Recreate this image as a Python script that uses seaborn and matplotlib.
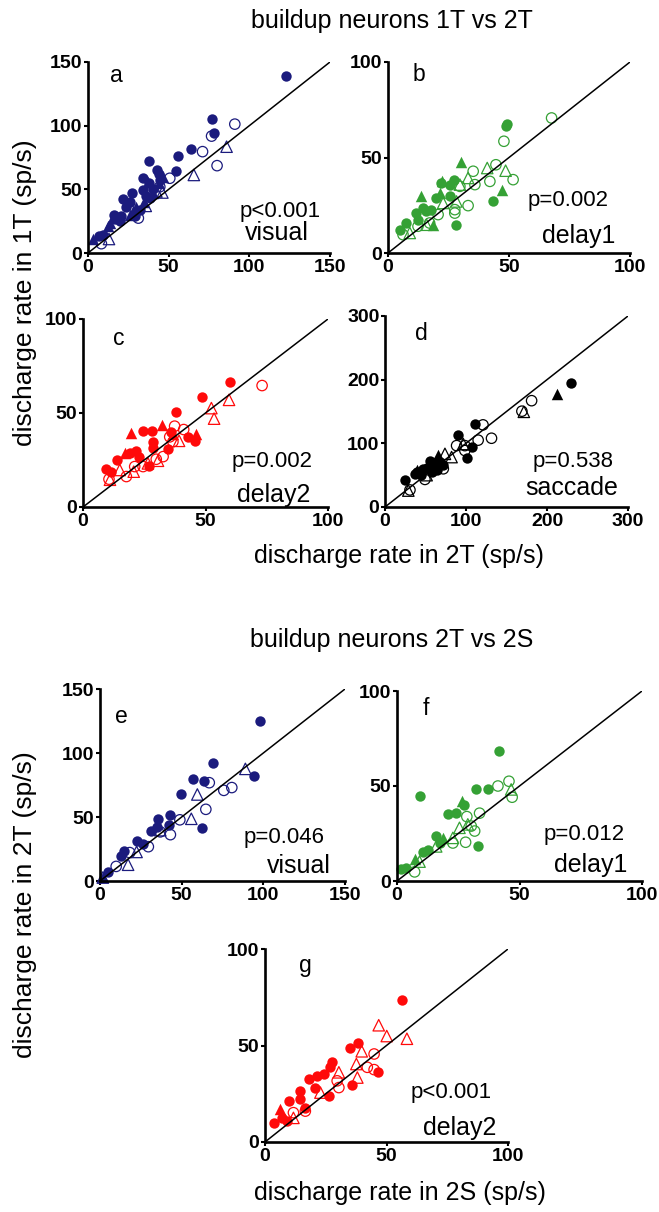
import pandas as pd
import matplotlib
matplotlib.use('Agg')
import matplotlib.pyplot as plt
import seaborn as sns

# values, (x, y) pairs
# fc = filled circle, oc = open circle, ft = filled triangle, ot = open triangle
# panels a-d: x = 2T, y = 1T ; panels e-g: x = 2S, y = 2T
a_fc = [(122.7, 138.8), (76.6, 104.9), (78.2, 94.4), (63.7, 81.4), (55.9, 76.4), (54.8, 64.7),
        (37.7, 72.5), (42.9, 65.2), (34.1, 58.7), (27.5, 47.5), (21.7, 42.3), (15.9, 30.0),
        (19.7, 24.8), (9.3, 14.3), (6.8, 13.0), (34.1, 49.6), (38.3, 43.0), (23.8, 36.5),
        (32.0, 34.0), (37.7, 54.8), (44.5, 57.4), (20.7, 28.7), (29.0, 28.7), (40.0, 50.0),
        (36.0, 45.0), (26.0, 40.0), (44.0, 62.0), (17.0, 27.0)]
a_oc = [(91.0, 101.2), (76.6, 91.8), (71.0, 79.6), (80.0, 68.6), (50.7, 58.7), (31.2, 27.4),
        (8.3, 7.3), (44.5, 52.0)]
a_ft = [(3.1, 11.0), (12.4, 20.9), (46.5, 60.0), (37.2, 56.0), (35.0, 40.4), (30.0, 36.5),
        (13.4, 23.5), (40.0, 47.0), (25.9, 30.0), (44.0, 55.0), (28.0, 33.0)]
a_ot = [(85.9, 83.5), (65.6, 61.3), (46.1, 47.5), (35.8, 37.0), (13.0, 11.0), (42.4, 48.3)]

b_fc = [(49.0, 67.7), (48.6, 66.7), (43.4, 27.0), (28.3, 14.8), (27.3, 38.4), (25.5, 35.8),
        (25.5, 29.7), (20.0, 28.8), (14.5, 23.6), (11.4, 20.9), (7.6, 15.7), (4.8, 12.2),
        (12.4, 17.5), (15.9, 21.8), (17.9, 22.7), (22.0, 36.6)]
b_oc = [(67.6, 70.7), (47.9, 58.5), (44.6, 46.2), (35.2, 42.8), (42.1, 37.5), (51.7, 38.4),
        (35.9, 35.8), (33.1, 24.8), (27.6, 22.7), (27.6, 20.9), (20.7, 20.1), (6.2, 9.6),
        (29.7, 34.9), (12.4, 14.0), (17.2, 15.7)]
b_ft = [(30.3, 47.5), (22.5, 37.5), (21.4, 31.4), (13.8, 29.7), (47.3, 33.2), (18.6, 14.8)]
b_ot = [(41.0, 44.5), (48.6, 43.1), (33.1, 39.3), (29.7, 35.8), (28.3, 27.0), (22.8, 26.2),
        (15.9, 14.8), (9.0, 10.5)]

c_fc = [(60.1, 66.4), (48.6, 58.5), (37.8, 50.5), (24.5, 40.5), (28.3, 40.5), (36.0, 40.0),
        (42.9, 37.0), (45.6, 35.2), (34.7, 30.6), (28.6, 34.7), (28.6, 31.2), (21.8, 29.9),
        (19.0, 28.5), (13.9, 25.0), (9.5, 20.2), (11.6, 18.8), (26.9, 21.8), (23.0, 26.8)]
c_oc = [(73.1, 64.6), (37.4, 43.0), (41.1, 41.2), (35.4, 37.3), (36.7, 34.7), (29.9, 25.4),
        (21.1, 21.5), (17.7, 16.2), (10.6, 14.8), (32.7, 26.8), (24.5, 21.5)]
c_ft = [(19.5, 39.4), (32.2, 43.8), (46.3, 38.6), (17.0, 28.5), (36.7, 39.0)]
c_ot = [(59.6, 57.0), (52.4, 52.6), (53.5, 47.0), (39.2, 35.2), (30.6, 24.6), (20.7, 18.8),
        (15.0, 19.7), (11.0, 14.5), (26.5, 23.2)]

d_fc = [(230, 194), (111, 130), (90.4, 113), (108, 94), (100.7, 77), (65.8, 73), (55.5, 73),
        (64.7, 58), (37, 52.6), (24.7, 42.3), (47.3, 60.3), (72, 65.5), (57.5, 55), (60, 65),
        (68, 70), (52, 62), (45, 50), (40, 55)]
d_oc = [(181, 167), (169, 150.5), (121, 129), (131.5, 108), (115, 105), (98.6, 96.4),
        (88.4, 96.4), (98.6, 88.7), (49.3, 43.3), (30.8, 26.8), (72, 60)]
d_ft = [(212.5, 177), (65.8, 81), (39, 57.7)]
d_ot = [(171.4, 149.5), (96.6, 99), (82.2, 78.4), (74, 83.5), (28.8, 25.8), (51.4, 50)]

e_fc = [(97.9, 124.9), (94.5, 82.4), (68.9, 92.4), (56.9, 79.5), (63.8, 78.1), (49.7, 67.6),
        (62.7, 41.6), (43.1, 51.4), (35.8, 48.6), (31.1, 39.2), (22.4, 31.6), (14.7, 23.5),
        (13.0, 19.5), (4.8, 7.3), (42.0, 43.8), (26.5, 29.0), (34.8, 42.4)]
e_oc = [(66.9, 76.8), (80.7, 73.0), (75.8, 70.8), (64.8, 56.0), (48.9, 47.8), (43.1, 36.2),
        (29.6, 26.8), (9.9, 11.4), (36.9, 38.4), (18.2, 22.2)]
e_ft = [(1.7, 3.2)]
e_ot = [(89.0, 87.6), (59.6, 67.6), (55.9, 48.6), (17.2, 12.7), (22.4, 22.7), (36.9, 39.7),
        (1.7, 2.7)]

f_fc = [(41.8, 68.6), (9.2, 45.0), (32.1, 48.2), (37.1, 48.2), (27.3, 40.2), (20.8, 35.2),
        (24.2, 35.7), (33.0, 18.2), (16.0, 23.6), (10.6, 15.5), (3.8, 7.1), (1.8, 6.1),
        (12.6, 16.4), (17.4, 20.0)]
f_oc = [(45.7, 52.5), (41.2, 50.0), (47.0, 44.1), (28.5, 33.9), (33.7, 35.7), (31.7, 26.3),
        (28.0, 20.4), (22.8, 20.0), (7.2, 4.8), (30.3, 28.9)]
f_ft = [(26.6, 42.3), (7.2, 11.4), (18.8, 22.7)]
f_ot = [(46.6, 48.2), (28.9, 29.8), (25.5, 28.0), (16.0, 18.2), (9.2, 10.2), (22.8, 22.7)]

g_fc = [(56.2, 73.5), (38.3, 51.4), (34.8, 48.8), (46.7, 36.1), (27.6, 41.3), (26.9, 38.7),
        (35.9, 29.6), (21.4, 34.3), (24.2, 35.2), (20.7, 28.2), (26.2, 23.9), (14.5, 26.5),
        (9.7, 21.3), (16.6, 17.8), (6.9, 12.5), (3.5, 9.9), (9.0, 10.8), (14.5, 22.1), (18.0, 32.6)]
g_oc = [(44.9, 45.6), (42.1, 38.7), (44.9, 37.5), (30.4, 28.2), (29.7, 31.7), (16.6, 16.0),
        (11.7, 15.2)]
g_ft = [(6.2, 17.2)]
g_ot = [(46.8, 60.5), (50.1, 54.9), (58.4, 53.5), (39.8, 47.0), (37.6, 40.4), (38.0, 33.4),
        (30.4, 36.1), (11.7, 12.5), (22.8, 25.6)]

letters = ['a', 'b', 'c', 'd', 'e', 'f', 'g']
epochs = ['visual', 'delay1', 'delay2', 'saccade', 'visual', 'delay1', 'delay2']
pvals = ['p<0.001', 'p=0.002', 'p=0.002', 'p=0.538', 'p=0.046', 'p=0.012', 'p<0.001']
limits = [150, 100, 100, 300, 150, 100, 100]
groups = [(a_fc, a_oc, a_ft, a_ot), (b_fc, b_oc, b_ft, b_ot), (c_fc, c_oc, c_ft, c_ot),
          (d_fc, d_oc, d_ft, d_ot), (e_fc, e_oc, e_ft, e_ot), (f_fc, f_oc, f_ft, f_ot),
          (g_fc, g_oc, g_ft, g_ot)]

navy = '#1b1b7d'
green = '#35a135'
red = '#ff0a0a'
colors = [navy, green, red, 'black', navy, green, red]

# layout (pixels on a 659 x 1212 canvas): left, top, right, bottom
W, H = 659, 1212
boxes = [(88, 62, 330, 253), (388, 62, 630, 253), (83, 319, 328, 507), (385, 316, 628, 507),
         (100, 689, 345, 881), (397, 691, 642, 881), (265, 949, 508, 1142)]
letter_pos = [(0.09, 0.897), (0.10, 0.902), (0.122, 0.862), (0.123, 0.874),
              (0.061, 0.823), (0.106, 0.874), (0.14, 0.88)]
p_pos = [(0.793, 0.188), (0.744, 0.246), (0.773, 0.214), (0.772, 0.211),
         (0.751, 0.198), (0.763, 0.216), (0.767, 0.228)]
ep_pos = [(0.781, 0.068), (0.789, 0.052), (0.778, 0.028), (0.768, 0.063),
          (0.810, 0.042), (0.792, 0.047), (0.802, 0.036)]

sns.set_style('ticks')
plt.rcParams['font.family'] = ['Liberation Sans', 'DejaVu Sans']
plt.rcParams.update({'text.color': 'black', 'axes.edgecolor': 'black',
                     'xtick.color': 'black', 'ytick.color': 'black',
                     'axes.labelcolor': 'black'})

fig = plt.figure(figsize=(W / 100, H / 100), dpi=100)

kinds = [('o', True), ('o', False), ('^', True), ('^', False)]
for i in range(7):
    l, t, r, b = boxes[i]
    ax = fig.add_axes([l / W, 1 - b / H, (r - l) / W, (b - t) / H])
    col = colors[i]
    for pts, (mk, filled) in zip(groups[i], kinds):
        df = pd.DataFrame(pts, columns=['x', 'y'])
        sns.scatterplot(data=df, x='x', y='y', ax=ax, marker=mk,
                        s=56 if mk == 'o' else 68,
                        color=col, edgecolor=col,
                        facecolor=col if filled else 'none',
                        linewidth=0 if filled else 0.9,
                        clip_on=False, zorder=2, legend=False)
    lim = limits[i]
    ax.plot([0, lim], [0, lim], color='black', lw=1.1, zorder=3)
    ax.set_xlim(0, lim)
    ax.set_ylim(0, lim)
    ticks = list(range(0, lim + 1, 50 if lim < 300 else 100))
    ax.set_xticks(ticks)
    ax.set_yticks(ticks)
    ax.set_xlabel('')
    ax.set_ylabel('')
    sns.despine(ax=ax)
    for s in ['left', 'bottom']:
        ax.spines[s].set_linewidth(1.9)
        ax.spines[s].set_color('black')
    ax.tick_params(direction='out', length=3, width=1.5, labelsize=14, pad=1)
    for lab in ax.get_xticklabels() + ax.get_yticklabels():
        lab.set_fontweight('bold')

    ax.text(*letter_pos[i], letters[i], transform=ax.transAxes, fontsize=16.5,
            ha='left', va='baseline')
    ax.text(*p_pos[i], pvals[i], transform=ax.transAxes, fontsize=16,
            ha='center', va='baseline')
    ax.text(*ep_pos[i], epochs[i], transform=ax.transAxes, fontsize=18,
            ha='center', va='baseline')

fig.text(392 / W, 1 - 21 / H, 'buildup neurons 1T vs 2T', fontsize=18, ha='center', va='center')
fig.text(399 / W, 1 - 556 / H, 'discharge rate in 2T (sp/s)', fontsize=18, ha='center', va='center')
fig.text(25 / W, 1 - 293 / H, 'discharge rate in 1T (sp/s)', fontsize=19, rotation=90,
         ha='center', va='center')
fig.text(392 / W, 1 - 640 / H, 'buildup neurons 2T vs 2S', fontsize=18, ha='center', va='center')
fig.text(25 / W, 1 - 905 / H, 'discharge rate in 2T (sp/s)', fontsize=19, rotation=90,
         ha='center', va='center')
fig.text(400 / W, 1 - 1193 / H, 'discharge rate in 2S (sp/s)', fontsize=18, ha='center', va='center')

fig.savefig('out.png', dpi=100)
